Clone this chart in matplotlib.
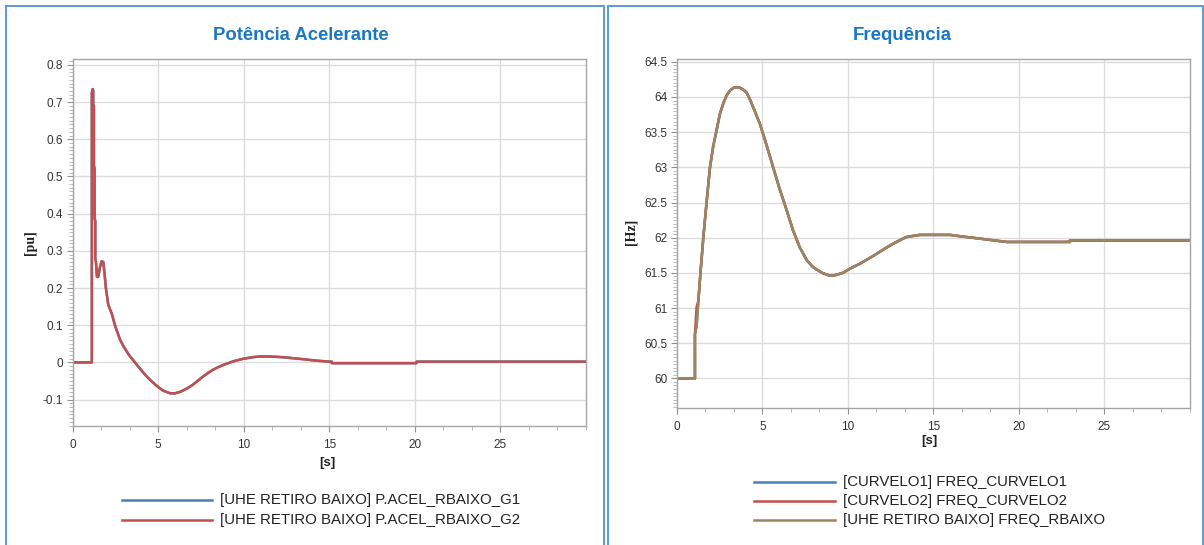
import matplotlib
matplotlib.use('Agg')
import matplotlib.pyplot as plt
from matplotlib.lines import Line2D
from matplotlib.patches import Rectangle
from matplotlib.ticker import MultipleLocator, FormatStrFormatter

# potência acelerante (G1 e G2 praticamente iguais)
t_pot = [0, 1.13, 1.13, 1.18, 1.21, 1.21, 1.25, 1.25, 1.29, 1.29, 1.33, 1.33, 1.37,
         1.43, 1.5, 1.6, 1.7, 1.8, 1.88, 1.95, 2.09, 2.3, 2.48, 2.77, 2.97, 3.3, 3.65,
         4.0, 4.3, 4.6, 5.0, 5.3, 5.7, 6.0, 6.3, 6.7, 7.0, 7.3, 7.6, 7.9, 8.2, 8.5,
         8.8, 9.1, 9.4, 9.9, 10.5, 11.0, 11.5, 12.3, 13.4, 14.2, 15.0, 15.15, 15.15,
         20.1, 20.1, 30]
p_g1 = [0, 0, 0.725, 0.735, 0.73, 0.69, 0.69, 0.53, 0.52, 0.39, 0.38, 0.28, 0.27,
        0.23, 0.23, 0.255, 0.272, 0.27, 0.235, 0.2, 0.155, 0.13, 0.1, 0.062, 0.044,
        0.02, 0.0, -0.02, -0.036, -0.05, -0.066, -0.076, -0.083, -0.083, -0.079, -0.07,
        -0.061, -0.05, -0.039, -0.029, -0.02, -0.013, -0.007, -0.002, 0.003, 0.009,
        0.014, 0.016, 0.016, 0.014, 0.009, 0.005, 0.002, 0.002, -0.002, -0.002, 0.002,
        0.002]
p_g2 = list(p_g1)

# frequência
t_freq = [0, 1.05, 1.05, 1.15, 1.25, 1.35, 1.54, 1.73, 1.93, 2.12, 2.32, 2.5, 2.71, 2.9,
          3.1, 3.3, 3.49, 3.7, 3.9, 4.08, 4.3, 4.5, 4.85, 5.2, 5.63, 6.0, 6.42, 6.8,
          7.19, 7.6, 7.97, 8.5, 8.95, 9.3, 9.7, 10.2, 10.7, 11.48, 12.4, 13.0, 13.43,
          14.2, 16.0, 16.6, 17.3, 18.3, 19.3, 23.0, 23.0, 30]
f_rbaixo = [60, 60, 60.63, 60.75, 61.1, 61.43, 62.0, 62.5, 63.0, 63.3, 63.53, 63.75,
            63.91, 64.02, 64.09, 64.13, 64.14, 64.13, 64.1, 64.06, 63.95, 63.83, 63.62,
            63.35, 63.0, 62.7, 62.39, 62.1, 61.86, 61.68, 61.58, 61.5, 61.46, 61.47,
            61.5, 61.57, 61.63, 61.74, 61.88, 61.96, 62.01, 62.04, 62.04, 62.02, 62.0,
            61.97, 61.94, 61.94, 61.96, 61.96]
f_curvelo1 = list(f_rbaixo)
f_curvelo2 = list(f_rbaixo)
f_curvelo2[3] = 61.02

x_ticks = [0, 5, 10, 15, 20, 25]

leg_pot = ['[UHE RETIRO BAIXO] P.ACEL_RBAIXO_G1', '[UHE RETIRO BAIXO] P.ACEL_RBAIXO_G2']
leg_freq = ['[CURVELO1] FREQ_CURVELO1', '[CURVELO2] FREQ_CURVELO2',
            '[UHE RETIRO BAIXO] FREQ_RBAIXO']

AZUL = '#4a7ebb'
VERM = '#c0504d'
MARROM = '#9c8560'
TITULO = '#1a78c2'
BORDA = '#5b9bd5'

plt.rcParams['font.family'] = ['Liberation Sans', 'DejaVu Sans']

W, H = 1204, 545
fig = plt.figure(figsize=(W / 100, H / 100), dpi=100)
fig.patch.set_facecolor('white')

def fx(px):
    return px / W

def fy(py):
    return 1 - py / H

# molduras dos painéis
for x0, x1 in [(6, 603.5), (607.5, 1203)]:
    fig.add_artist(Rectangle((fx(x0), fy(560)), fx(x1 - x0), (560 - 6) / H,
                             transform=fig.transFigure, fill=False,
                             edgecolor=BORDA, linewidth=1.4))

ax1 = fig.add_axes([fx(72.5), fy(426), fx(586 - 72.5), (426 - 59) / H])
ax2 = fig.add_axes([fx(677), fy(408), fx(1189.5 - 677), (408 - 59) / H])

for ax in [ax1, ax2]:
    ax.set_facecolor('white')
    for s in ax.spines.values():
        s.set_color('#a6a6a6')
        s.set_linewidth(1.0)
    ax.grid(True, which='major', color='#dcdcdc', linewidth=1.0)
    ax.set_axisbelow(True)
    ax.set_xlim(0, 30)
    ax.set_xticks(x_ticks)
    ax.xaxis.set_minor_locator(MultipleLocator(5 / 3))
    ax.yaxis.set_major_formatter(FormatStrFormatter('%g'))
    ax.tick_params(which='major', length=4, color='#909090', labelsize=8.5,
                   labelcolor='#333333', pad=3)
    ax.tick_params(axis='x', which='major', pad=5)
    ax.tick_params(which='minor', length=3, color='#b0b0b0')

# painel esquerdo
ax1.plot(t_pot, p_g1, color=AZUL, linewidth=1.8)
ax1.plot(t_pot, p_g2, color=VERM, linewidth=1.8)
ax1.set_ylim(-0.171, 0.816)
ax1.yaxis.set_major_locator(MultipleLocator(0.1))
ax1.yaxis.set_minor_locator(MultipleLocator(0.01))

# painel direito
ax2.plot(t_freq, f_curvelo1, color=AZUL, linewidth=1.8)
ax2.plot(t_freq, f_curvelo2, color=VERM, linewidth=1.8)
ax2.plot(t_freq, f_rbaixo, color=MARROM, linewidth=1.8)
ax2.set_ylim(59.58, 64.54)
ax2.yaxis.set_major_locator(MultipleLocator(0.5))
ax2.yaxis.set_minor_locator(MultipleLocator(0.05))

# títulos e rótulos
fig.text(fx(301), fy(35), 'Potência Acelerante', color=TITULO, fontsize=13.3,
         fontweight='bold', ha='center', va='center')
fig.text(fx(902), fy(35), 'Frequência', color=TITULO, fontsize=13.4,
         fontweight='bold', ha='center', va='center')
fig.text(fx(30), fy(243), '[pu]', family='Liberation Serif', fontweight='bold',
         fontsize=10, rotation=90, ha='center', va='center', color='#222222')
fig.text(fx(631), fy(232), '[Hz]', family='Liberation Serif', fontweight='bold',
         fontsize=10, rotation=90, ha='center', va='center', color='#222222')
fig.text(fx(327), fy(463), '[s]', fontweight='bold', fontsize=9.5,
         ha='center', va='center', color='#222222')
fig.text(fx(929), fy(441), '[s]', fontweight='bold', fontsize=9.5,
         ha='center', va='center', color='#222222')

# legendas
def legenda(x0, x1, xt, ys, nomes, cores):
    for y, nome, c in zip(ys, nomes, cores):
        fig.add_artist(Line2D([fx(x0), fx(x1)], [fy(y), fy(y)],
                              transform=fig.transFigure, color=c, linewidth=1.8))
        fig.text(fx(xt), fy(y), nome, fontsize=10.8, ha='left', va='center',
                 color='#222222')

legenda(122, 212, 220, [500, 520], leg_pot, [AZUL, VERM])
legenda(754, 835, 843, [482, 501, 520], leg_freq, [AZUL, VERM, MARROM])

fig.savefig('out.png', dpi=100, facecolor='white')
